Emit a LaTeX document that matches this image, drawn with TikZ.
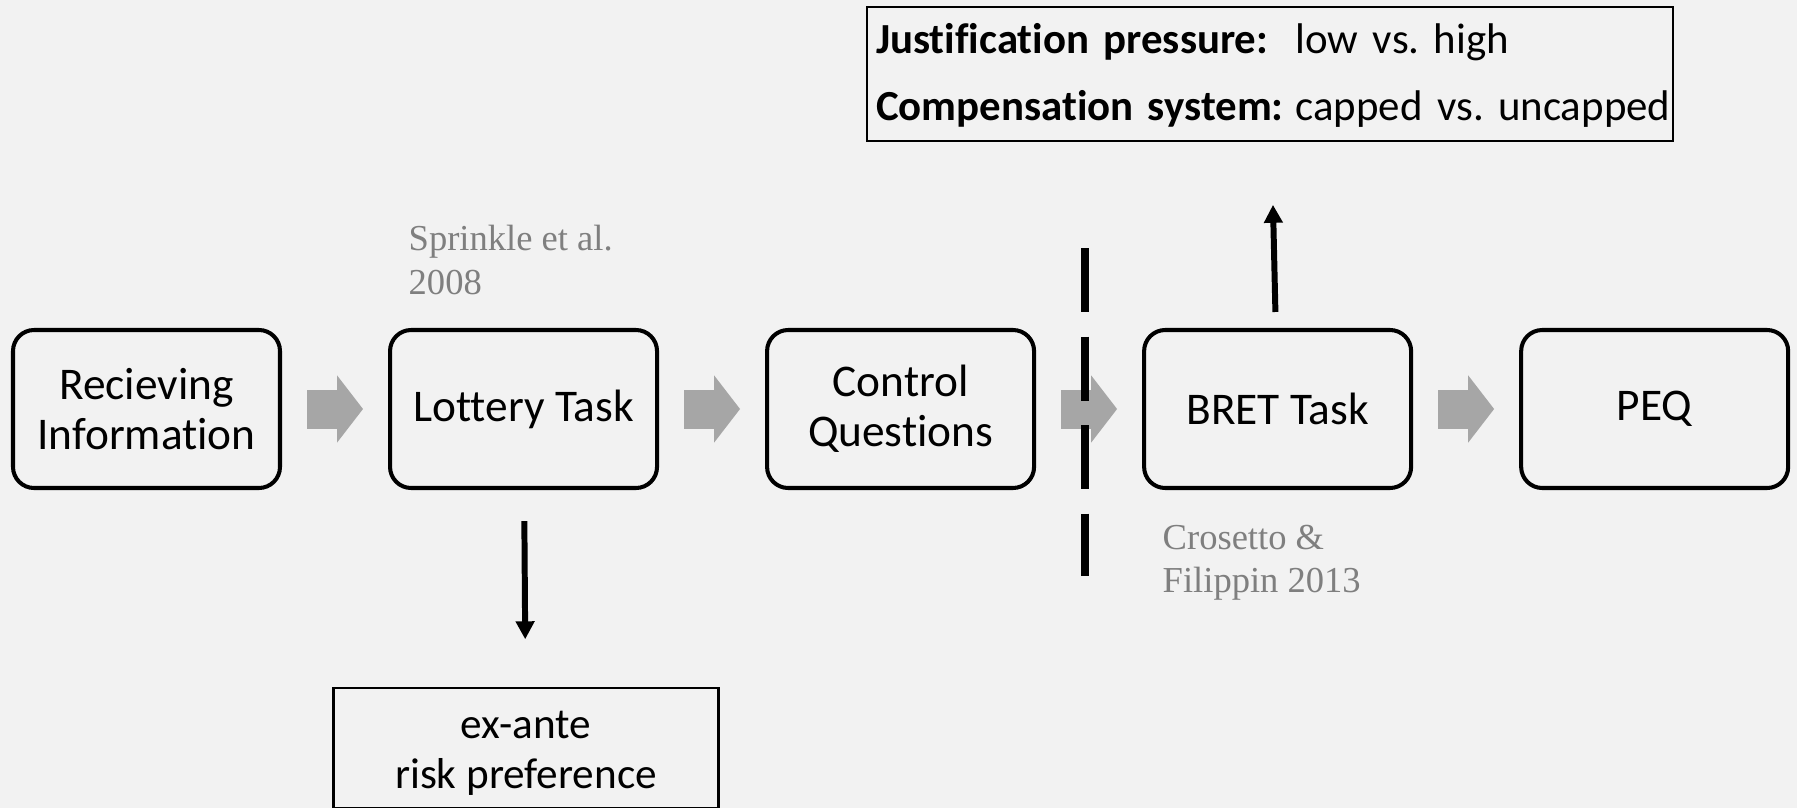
\documentclass[tikz,border=0pt]{standalone}
\usepackage{fontspec}
\setmainfont{Carlito}[Ligatures=NoCommon]
\newfontfamily\citefont{Liberation Serif}
\usetikzlibrary{positioning, arrows.meta}

\definecolor{bggray}{HTML}{F2F2F2}
\definecolor{flowgray}{HTML}{A6A6A6}
\definecolor{citegray}{HTML}{7F7F7F}

\begin{document}
\begin{tikzpicture}[
        node distance=1.06cm, % gap between the stage boxes
        stage/.style={
            rectangle,
            draw,
            line width=1.15pt,
            rounded corners=6pt,
            minimum width=2.67cm,
            minimum height=1.58cm,
            align=center,
            font=\fontsize{12.9}{14.2}\selectfont
        },
        infobox/.style={rectangle, draw, line width=0.6pt, font=\fontsize{12.3}{14.5}\selectfont},
        cite/.style={align=left, inner sep=0pt, text=citegray, font=\citefont\fontsize{10.4}{12.5}\selectfont},
        flow/.style={draw=flowgray, line width=0.39cm, -{Triangle[length=0.26cm, width=0.66cm]}, shorten <=0.25cm, shorten >=0.25cm},
        pointer/.style={draw, line width=1.7pt, -{Triangle[length=0.18cm, width=0.18cm]}},
        divider/.style={draw, line width=2pt, dash pattern=on 0.64cm off 0.245cm}
    ]
        % Canvas
        \useasboundingbox (0,0) rectangle (17.97,-8.08);
        \fill[bggray] (0,0) rectangle (17.97,-8.08);

        % Nodes
        \node [stage] (rec) at (1.465,-4.09) {Recieving\\Information};
        \node [stage, right=of rec] (lot) {Lottery Task};
        \node [stage, right=of lot] (ctrl) {Control\\Questions};
        \node [stage, right=of ctrl] (bret) {BRET Task};
        \node [stage, right=of bret] (peq) {PEQ};

        \node [infobox, text width=7.88cm, inner xsep=0.09cm, inner ysep=0pt, minimum height=1.33cm, align=left,
               font=\fontsize{12.2}{19}\selectfont] (cond) at (12.70,-0.74)
            {\begin{tabular}{@{}l@{\hspace{0.12cm}}l@{}}
                \textbf{Justification pressure:} & low vs.\ high\\
                \textbf{Compensation system:} & capped vs.\ uncapped
             \end{tabular}};
        \node [infobox, minimum width=3.85cm, minimum height=1.17cm, align=center] (exante) at (5.26,-7.48)
            {\rule{0pt}{10.8pt}ex-ante\\risk preference};

        % Sources
        \node [cite, anchor=north west] (sprinkle) at (4.08,-2.24) {Sprinkle et al.\\2008};
        \node [cite, anchor=north west] (crosetto) at (11.62,-5.24) {Crosetto \&\\Filippin 2013};

        % Paths
        \draw [flow] (rec) -- (lot);
        \draw [flow] (lot) -- (ctrl);
        \draw [flow] (ctrl) -- (bret);
        \draw [flow] (bret) -- (peq);

        \draw [pointer, shorten <=0.31cm, shorten >=0.48cm] (lot) -- (exante);
        \draw [pointer, shorten <=0.16cm, shorten >=0.63cm] (bret) -- (cond);

        % Treatment cut
        \draw [divider] (10.85,-2.48) -- (10.85,-5.76);
    \end{tikzpicture}
\end{document}
